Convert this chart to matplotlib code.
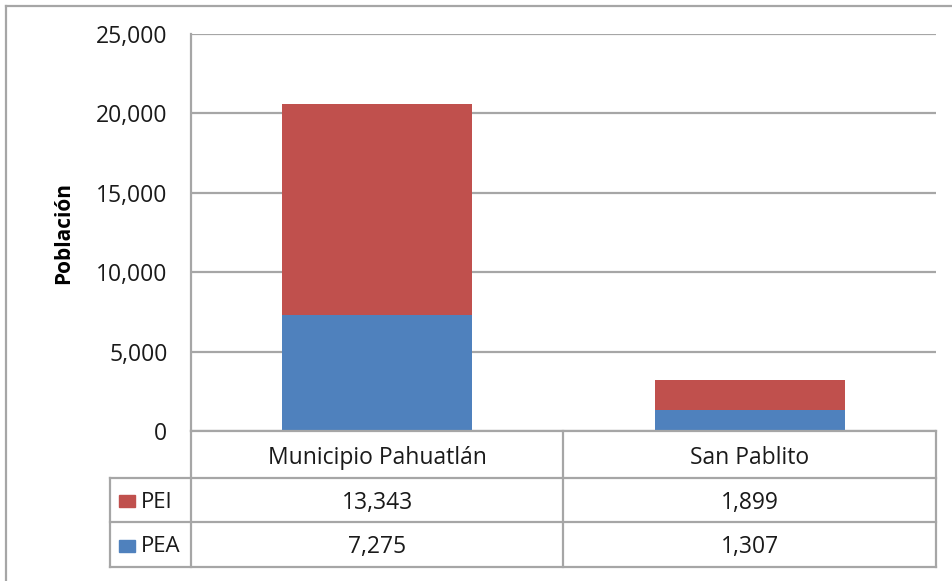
import matplotlib
matplotlib.use("Agg")
import matplotlib.pyplot as plt
from matplotlib.patches import Rectangle
from matplotlib.lines import Line2D

categories = ["Municipio Pahuatlán", "San Pablito"]
series_names = ["PEI", "PEA"]
pea = [7275, 1307]
pei = [13343, 1899]
yticks = [0, 5000, 10000, 15000, 20000, 25000]
ylabel = "Población"

colors = {"PEA": "#4F81BD", "PEI": "#C0504D"}
grid_c = "#A6A6A6"
txt_c = "#1A1A1A"
FONT = "Open Sans"

W, H = 953, 581
fig = plt.figure(figsize=(W / 100, H / 100), dpi=100)
plt.rcParams['font.family'] = [FONT, 'DejaVu Sans']

def fx(px):
    return px / W

def fy(py):
    return 1 - py / H

L, R, T, B = 191, 936, 34, 431
ax = fig.add_axes([fx(L), fy(B), fx(R) - fx(L), fy(T) - fy(B)])
x = list(range(len(categories)))
ax.bar(x, pea, width=0.51, color=colors["PEA"], zorder=3)
ax.bar(x, pei, width=0.51, bottom=pea, color=colors["PEI"], zorder=3)
ax.set_xlim(-0.5, len(categories) - 0.5)
ax.set_ylim(0, 25000)
ax.set_yticks(yticks)
ax.set_yticklabels([f"{v:,}" for v in yticks], fontsize=16.5, color=txt_c)
ax.tick_params(axis='y', length=0, pad=17)
ax.set_xticks([])
for s in ["top", "right", "bottom"]:
    ax.spines[s].set_visible(False)
ax.spines["left"].set_color(grid_c)
ax.spines["left"].set_linewidth(1.6)
ax.yaxis.grid(True, color=grid_c, linewidth=1.6, zorder=0)
ax.set_axisbelow(True)
ax.set_ylabel(ylabel, fontsize=15, fontweight="bold", color="black", labelpad=16)

# overlay in pixel coordinates for the data table
ov = fig.add_axes([0, 0, 1, 1], zorder=5)
ov.set_xlim(0, W)
ov.set_ylim(H, 0)
ov.axis("off")
ov.patch.set_alpha(0)

fig.canvas.draw()
inv = ov.transData.inverted()
def data_to_px(xd):
    disp = ax.transData.transform((xd, 0))
    return inv.transform(disp)[0]

edges = [data_to_px(i - 0.5) for i in range(len(categories) + 1)]
centers = [data_to_px(i) for i in range(len(categories))]

row_y = [431, 478, 522, 567]
leg_left = 110
lw = 1.6
toff = 3

def hline(x0, x1, y):
    ov.add_line(Line2D([x0, x1], [y, y], color=grid_c, linewidth=lw))

def vline(x, y0, y1):
    ov.add_line(Line2D([x, x], [y0, y1], color=grid_c, linewidth=lw))

# outer chart border (top and left)
hline(6, W, 6)
vline(6, 6, H)

hline(edges[0], edges[-1], row_y[0])
hline(leg_left, edges[-1], row_y[1])
hline(leg_left, edges[-1], row_y[2])
hline(leg_left, edges[-1], row_y[3])
for e in edges:
    vline(e, row_y[0], row_y[3])
vline(leg_left, row_y[1], row_y[3])

for c, name in zip(centers, categories):
    ov.text(c, (row_y[0] + row_y[1]) / 2 + toff, name, ha="center", va="center",
            fontsize=16.5, color=txt_c)

rows = {"PEI": pei, "PEA": pea}
for i, sname in enumerate(series_names):
    yc = (row_y[i + 1] + row_y[i + 2]) / 2
    ov.add_patch(Rectangle((119, yc - 5), 16, 12, color=colors[sname]))
    ov.text(141, yc + toff - 1, sname, ha="left", va="center", fontsize=16, color=txt_c)
    for c, v in zip(centers, rows[sname]):
        ov.text(c, yc + toff, f"{v:,}", ha="center", va="center", fontsize=16.5, color=txt_c)

fig.savefig("out.png", dpi=100)
